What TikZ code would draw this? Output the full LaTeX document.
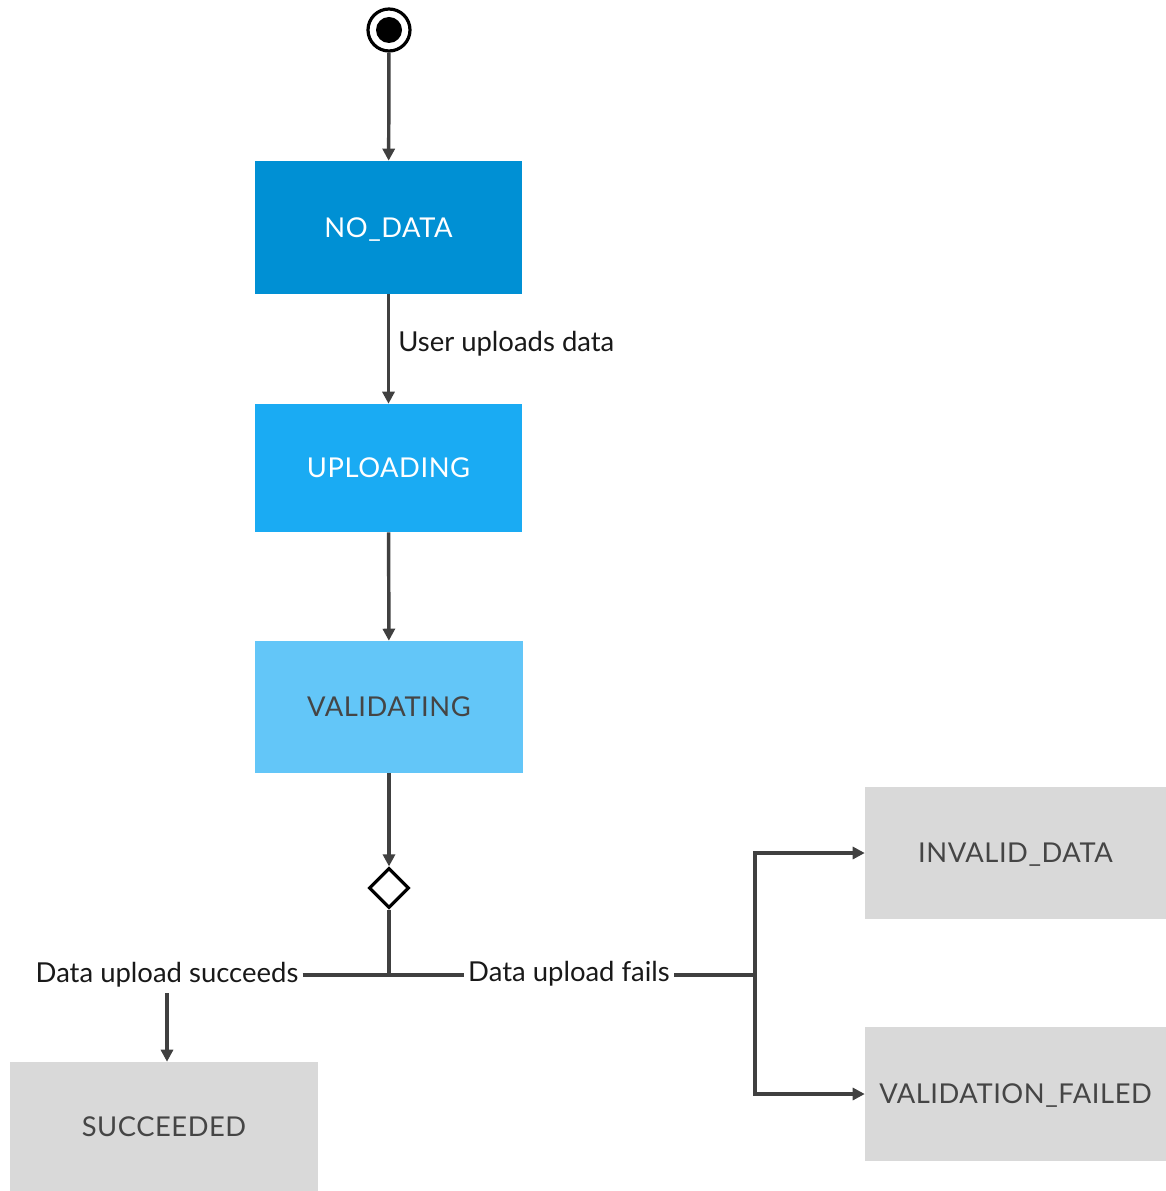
\documentclass[tikz,border=0pt]{standalone}
\usepackage{fontspec}
\setmainfont{Lato}
\newfontfamily\boxfont[LetterSpace=2.0]{Lato}
\usetikzlibrary{arrows.meta,shapes.geometric}
\definecolor{cdark}{HTML}{0090D4}
\definecolor{cmid}{HTML}{1AABF3}
\definecolor{clight}{HTML}{63C6F8}
\definecolor{cgray}{HTML}{D9D9D9}
\definecolor{cline}{HTML}{404040}
\definecolor{ctext}{HTML}{454545}
\tikzset{
  px/.style={x=0.75pt,y=-0.75pt},
  statebox/.style={rectangle,draw=none,inner sep=0pt,font=\boxfont\fontsize{20.5}{24}\selectfont,text depth=0pt,text height=14.5pt},
  lbl/.style={inner sep=3pt,font=\fontsize{20.6}{24}\selectfont,text=black!90},
  conn/.style={draw=cline,line width=2.6pt},
  arr/.style={conn,-{Triangle[length=9pt,width=9pt]}},
}
\begin{document}
\begin{tikzpicture}[px]
\useasboundingbox (0,0) rectangle (1166,1191);
% initial state
\node[circle,draw=black,line width=2.4pt,fill=white,minimum size=31.5pt,inner sep=0pt] (init) at (389,30) {};
\node[circle,fill=black,minimum size=19.5pt,inner sep=0pt] at (init) {};
% states
\node[statebox,fill=cdark,text=white,minimum width=200.25pt,minimum height=99.75pt] (nodata) at (388.5,227.5) {NO\_DATA};
\node[statebox,fill=cmid,text=white,minimum width=200.25pt,minimum height=96pt] (uploading) at (388.5,468) {UPLOADING};
\node[statebox,fill=clight,text=ctext,minimum width=201pt,minimum height=99pt] (validating) at (389,707) {VALIDATING};
\node[statebox,fill=cgray,text=ctext,minimum width=225.75pt,minimum height=99pt] (invalid) at (1015.5,853) {INVALID\_DATA};
\node[statebox,fill=cgray,text=ctext,minimum width=225.75pt,minimum height=100.5pt] (vfailed) at (1015.5,1094) {VALIDATION\_FAILED};
\node[statebox,fill=cgray,text=ctext,minimum width=231pt,minimum height=96.75pt] (succeeded) at (164,1126.5) {SUCCEEDED};
% decision
\node[diamond,draw=black,line width=2.4pt,fill=white,minimum width=30pt,minimum height=30pt,inner sep=0pt] (dec) at (389,888) {};
% labels
\node[lbl,anchor=west] (lupl) at (394,344) {User uploads data};
\node[lbl] (lsucc) at (167,975) {Data upload succeeds};
\node[lbl] (lfail) at (569,974) {Data upload fails};
\coordinate (J) at (389,975);
\coordinate (K) at (755,975);
% connectors
\draw[arr] (init) -- (nodata);
\draw[arr] (nodata) -- (uploading);
\draw[arr] (uploading) -- (validating);
\draw[arr] (validating) -- (dec);
\draw[conn] (dec) -- (J);
\draw[conn] (lsucc.east |- J) -- (J) -- (lfail.west |- J);
\draw[conn] (lfail.east |- K) -- (K);
\draw[arr] (K) |- (invalid.west);
\draw[arr] (K) |- (vfailed.west);
\draw[arr] ([yshift=-1pt]lsucc.south) -- (lsucc.south |- succeeded.north);
\end{tikzpicture}
\end{document}
